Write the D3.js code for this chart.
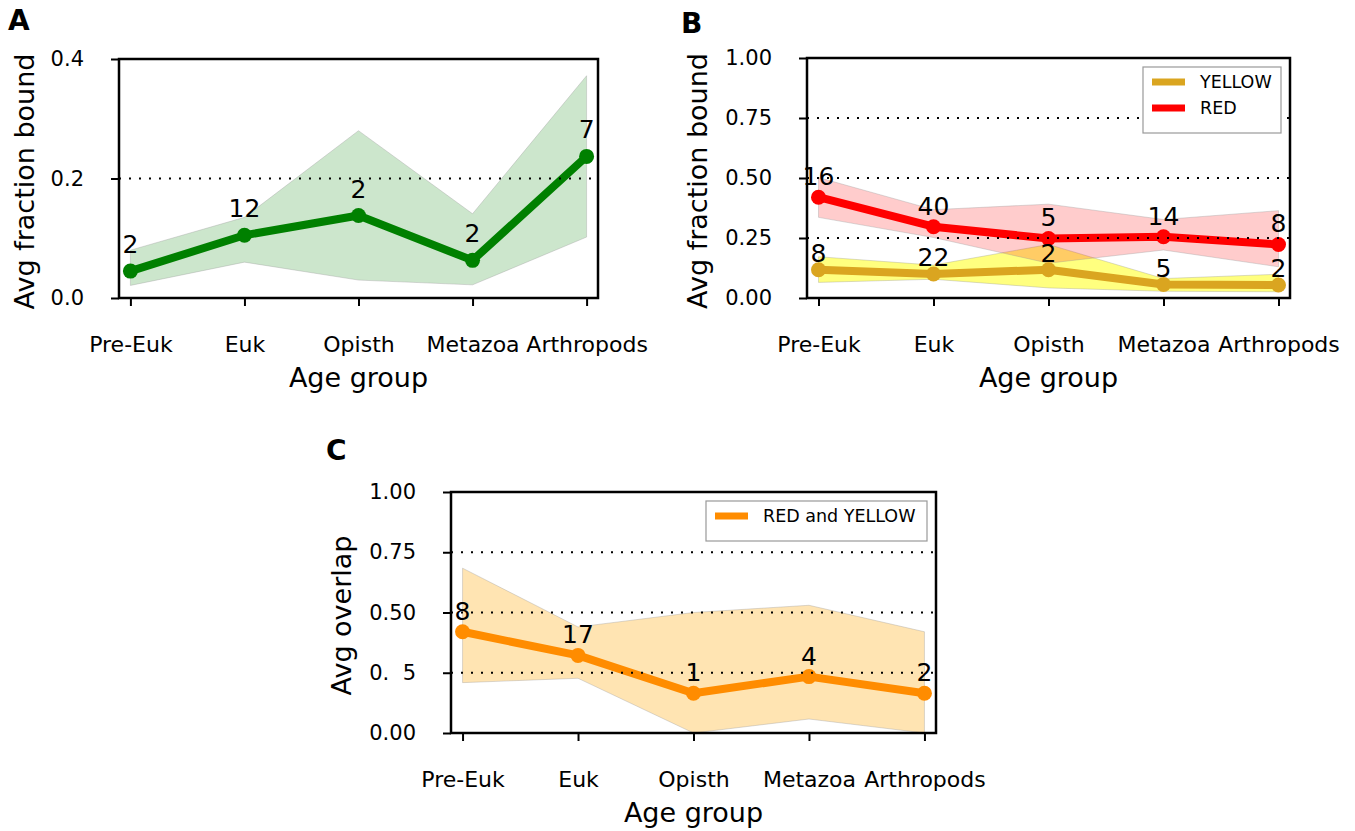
<!DOCTYPE html>
<html>
<head>
<meta charset="utf-8">
<script src="https://cdn.jsdelivr.net/npm/d3@7"></script>
<style>
  html, body { margin: 0; padding: 0; background: #fff; }
  svg { display: block; font-family: "DejaVu Sans", sans-serif; }
</style>
</head>
<body>
<svg id="chart" width="1355" height="831"></svg>
<script>
// ---------------- data ----------------
const categories = ["Pre-Euk", "Euk", "Opisth", "Metazoa", "Arthropods"];

// Panel A (green)
const greenMean = [0.045, 0.105, 0.138, 0.063, 0.237];
const greenLow  = [0.021, 0.060, 0.030, 0.022, 0.102];
const greenHigh = [0.080, 0.135, 0.280, 0.141, 0.372];
const greenN    = [2, 12, 2, 2, 7];

// Panel B
const yellowMean = [0.118, 0.100, 0.118, 0.056, 0.054];
const yellowLow  = [0.065, 0.078, 0.042, 0.028, 0.026];
const yellowHigh = [0.172, 0.137, 0.223, 0.081, 0.099];
const yellowN    = [8, 22, 2, 5, 2];

const redMean = [0.420, 0.297, 0.248, 0.255, 0.223];
const redLow  = [0.336, 0.252, 0.145, 0.200, 0.130];
const redHigh = [0.502, 0.368, 0.391, 0.327, 0.364];
const redN    = [16, 40, 5, 14, 8];

// Panel C
const overlapMean = [0.420, 0.322, 0.165, 0.234, 0.165];
const overlapLow  = [0.209, 0.227, 0.000, 0.058, 0.000];
const overlapHigh = [0.684, 0.440, 0.500, 0.530, 0.420];
const overlapN    = [8, 17, 1, 4, 2];

// ticks
const yTicksA = [0, 0.2, 0.4];
const yTickLabelsA = ["0.0", "0.2", "0.4"];
const gridA = [0.2];
const yTicksB = [0, 0.25, 0.5, 0.75, 1.0];
const yTickLabelsB = ["0.00", "0.25", "0.50", "0.75", "1.00"];
const gridB = [0.25, 0.5, 0.75];
const yTicksC = [0, 0.25, 0.5, 0.75, 1.0];
const yTickLabelsC = ["0.00", "0. 5", "0.50", "0.75", "1.00"];
const gridC = [0.25, 0.5, 0.75];

// ---------------- drawing ----------------
const svg = d3.select("#chart");

function drawPanel(cfg) {
  const g = svg.append("g");
  const x = d3.scaleLinear().domain([-0.1, 4.1]).range([cfg.left, cfg.right]);
  const y = d3.scaleLinear().domain(cfg.yDomain).range([cfg.bottom, cfg.top]);

  // bands
  cfg.series.forEach(s => {
    const area = d3.area()
      .x((d, i) => x(i))
      .y0((d, i) => y(s.low[i]))
      .y1((d, i) => y(s.high[i]));
    g.append("path")
      .attr("d", area(s.mean))
      .attr("fill", s.band)
      .attr("fill-opacity", s.bandOpacity)
      .attr("stroke", "#999")
      .attr("stroke-opacity", 0.35)
      .attr("stroke-width", 1);
  });

  // lines + markers
  cfg.series.forEach(s => {
    const line = d3.line().x((d, i) => x(i)).y(d => y(d));
    g.append("path")
      .attr("d", line(s.mean))
      .attr("fill", "none")
      .attr("stroke", s.color)
      .attr("stroke-width", 8)
      .attr("stroke-linejoin", "round");
    g.selectAll(null).data(s.mean).enter().append("circle")
      .attr("cx", (d, i) => x(i))
      .attr("cy", d => y(d))
      .attr("r", 7.5)
      .attr("fill", s.color);
  });

  // dotted grid lines
  g.selectAll(null).data(cfg.grid).enter().append("line")
    .attr("x1", cfg.left).attr("x2", cfg.right)
    .attr("y1", d => y(d)).attr("y2", d => y(d))
    .attr("stroke", "#000")
    .attr("stroke-width", 2)
    .attr("stroke-dasharray", "2 8");

  // count labels
  cfg.series.forEach(s => {
    g.selectAll(null).data(s.n).enter().append("text")
      .attr("x", (d, i) => x(i))
      .attr("y", (d, i) => y(s.mean[i]) - s.labelOffset)
      .attr("text-anchor", "middle")
      .attr("font-size", 25)
      .attr("fill", "#000")
      .text(d => d);
  });

  // axes
  const yAxis = d3.axisLeft(y)
    .tickValues(cfg.yTicks)
    .tickFormat((d, i) => cfg.yTickLabels[i])
    .tickSize(8).tickPadding(27);
  const ya = g.append("g").attr("transform", `translate(${cfg.left},0)`).call(yAxis);
  const xAxis = d3.axisBottom(x)
    .tickValues(d3.range(categories.length))
    .tickFormat(i => categories[i])
    .tickSize(8).tickPadding(30);
  const xa = g.append("g").attr("transform", `translate(0,${cfg.bottom})`).call(xAxis);
  [ya, xa].forEach(a => {
    a.select(".domain").remove();
    a.selectAll(".tick line").attr("stroke", "#000").attr("stroke-width", 2);
    a.selectAll(".tick text")
      .attr("font-family", "DejaVu Sans")
      .attr("fill", "#000");
  });
  ya.selectAll(".tick text").attr("font-size", 21);
  xa.selectAll(".tick text").attr("font-size", 22);
  // handle label with gap
  ya.selectAll(".tick text").each(function() {
    const t = d3.select(this);
    const s = t.text();
    if (s === "0. 5") {
      t.text("");
      t.append("tspan").text("0.");
      t.append("tspan").attr("dx", "0.32em").text(" 5");
    }
  });

  // frame
  g.append("rect")
    .attr("x", cfg.left).attr("y", cfg.top)
    .attr("width", cfg.right - cfg.left)
    .attr("height", cfg.bottom - cfg.top)
    .attr("fill", "none")
    .attr("stroke", "#000")
    .attr("stroke-width", 2.5);

  // axis titles
  g.append("text")
    .attr("x", (cfg.left + cfg.right) / 2)
    .attr("y", cfg.bottom + 89)
    .attr("text-anchor", "middle")
    .attr("font-size", 27)
    .text("Age group");
  g.append("text")
    .attr("transform", `translate(${cfg.left - cfg.yLabelOffset},${(cfg.top + cfg.bottom) / 2 + 3}) rotate(-90)`)
    .attr("text-anchor", "middle")
    .attr("font-size", 27)
    .text(cfg.yLabel);

  // panel letter
  g.append("text")
    .attr("x", cfg.letterX).attr("y", cfg.letterY)
    .attr("font-size", 28)
    .attr("font-weight", "bold")
    .text(cfg.letter);

  // legend
  if (cfg.legend) {
    const L = cfg.legend;
    const lg = g.append("g");
    const h = 14 + L.items.length * 26;
    const w = L.width;
    const lx = cfg.right - 9 - w, ly = cfg.top + 9;
    lg.append("rect")
      .attr("x", lx).attr("y", ly).attr("width", w).attr("height", h)
      .attr("fill", "#fff").attr("stroke", "#999").attr("stroke-width", 1.2);
    L.items.forEach((it, i) => {
      const cy = ly + 15 + i * 26;
      lg.append("line")
        .attr("x1", lx + 9).attr("x2", lx + 42)
        .attr("y1", cy).attr("y2", cy)
        .attr("stroke", it.color).attr("stroke-width", 7);
      lg.append("text")
        .attr("x", lx + 57).attr("y", cy)
        .attr("dy", "0.36em")
        .attr("font-size", 17.5)
        .text(it.label);
    });
  }
}

drawPanel({
  letter: "A", letterX: 8, letterY: 30,
  left: 119, right: 598, top: 59, bottom: 298,
  yDomain: [0, 0.4], yTicks: yTicksA, yTickLabels: yTickLabelsA, grid: gridA,
  yLabel: "Avg fraction bound", yLabelOffset: 85,
  series: [
    { mean: greenMean, low: greenLow, high: greenHigh, n: greenN,
      color: "#008000", band: "#008000", bandOpacity: 0.2, labelOffset: 18 }
  ]
});

drawPanel({
  letter: "B", letterX: 681, letterY: 33,
  left: 807, right: 1290, top: 58, bottom: 298,
  yDomain: [0, 1], yTicks: yTicksB, yTickLabels: yTickLabelsB, grid: gridB,
  yLabel: "Avg fraction bound", yLabelOffset: 100,
  series: [
    { mean: yellowMean, low: yellowLow, high: yellowHigh, n: yellowN,
      color: "#DAA520", band: "#ffff00", bandOpacity: 0.5, labelOffset: 8 },
    { mean: redMean, low: redLow, high: redHigh, n: redN,
      color: "#ff0000", band: "#ff0000", bandOpacity: 0.2, labelOffset: 12 }
  ],
  legend: { width: 138, items: [
    { label: "YELLOW", color: "#DAA520" },
    { label: "RED", color: "#ff0000" }
  ]}
});

drawPanel({
  letter: "C", letterX: 326, letterY: 460,
  left: 451, right: 936, top: 492, bottom: 733,
  yDomain: [0, 1], yTicks: yTicksC, yTickLabels: yTickLabelsC, grid: gridC,
  yLabel: "Avg overlap", yLabelOffset: 100,
  series: [
    { mean: overlapMean, low: overlapLow, high: overlapHigh, n: overlapN,
      color: "#ff8c00", band: "#ffa500", bandOpacity: 0.3, labelOffset: 12 }
  ],
  legend: { width: 221, items: [
    { label: "RED and YELLOW", color: "#ff8c00" }
  ]}
});
</script>
</body>
</html>
